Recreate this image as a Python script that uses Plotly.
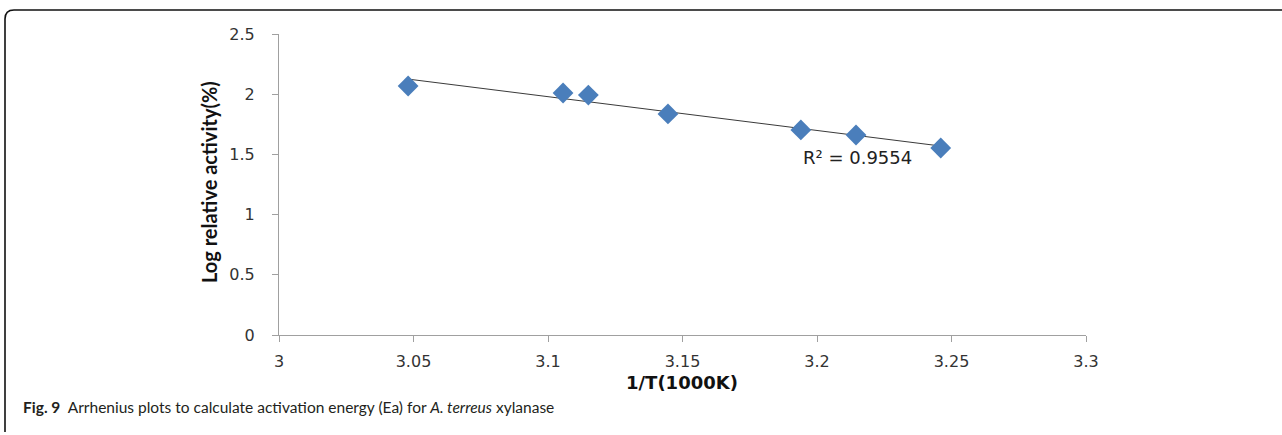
import numpy as np
import plotly.graph_objects as go

# ---- data ----
inv_T = [3.048, 3.1056, 3.115, 3.1446, 3.194, 3.2145, 3.246]
log_activity = [2.068, 2.010, 1.993, 1.836, 1.703, 1.661, 1.553]
x_ticks = [3, 3.05, 3.1, 3.15, 3.2, 3.25, 3.3]
x_tick_labels = ["3", "3.05", "3.1", "3.15", "3.2", "3.25", "3.3"]
y_ticks = [0, 0.5, 1, 1.5, 2, 2.5]
y_tick_labels = ["0", "0.5", "1", "1.5", "2", "2.5"]
r2_label = "R² = 0.9554"
x_title = "1/T(1000K)"
y_title = "Log relative activity(%)"
caption = "<b>Fig. 9</b>  Arrhenius plots to calculate activation energy (Ea) for <i>A. terreus</i> xylanase"

# ---- layout geometry (pixels) ----
W, H = 1282, 435
L, R, T, B = 279, 1086, 34, 335


def px(xp):
    return (xp - L) / (R - L)


def py(yp):
    return (B - yp) / (B - T)


# linear trendline from the data
slope, intercept = np.polyfit(inv_T, log_activity, 1)
tx = [min(inv_T), max(inv_T)]
ty = [slope * v + intercept for v in tx]

fig = go.Figure()
fig.add_trace(go.Scatter(x=tx, y=ty, mode="lines",
                         line=dict(color="#3a3a3a", width=1), showlegend=False,
                         hoverinfo="skip"))
fig.add_trace(go.Scatter(x=inv_T, y=log_activity, mode="markers",
                         marker=dict(symbol="diamond", size=16, color="#4a7ebb",
                                     line=dict(width=0)),
                         showlegend=False))

axis_font = dict(family="DejaVu Sans", size=16, color="#333333")
fig.update_xaxes(range=[3, 3.3], tickvals=x_ticks, ticktext=x_tick_labels,
                 showline=True, linecolor="#a0a0a0", linewidth=1,
                 ticks="outside", ticklen=6, tickcolor="#a0a0a0",
                 showgrid=False, zeroline=False, tickfont=axis_font,
                 ticklabelstandoff=6)
fig.update_yaxes(range=[0, 2.5], tickvals=y_ticks, ticktext=y_tick_labels,
                 showline=True, linecolor="#a0a0a0", linewidth=1,
                 ticks="outside", ticklen=6, tickcolor="#a0a0a0",
                 showgrid=False, zeroline=False, tickfont=axis_font,
                 ticklabelstandoff=14)

annotations = [
    dict(text=r2_label, x=px(857), y=py(157), xref="paper", yref="paper",
         showarrow=False, xanchor="center", yanchor="middle",
         font=dict(family="DejaVu Sans", size=18, color="#222222")),
    dict(text="<b>" + x_title + "</b>", x=px(682), y=py(382), xref="paper", yref="paper",
         showarrow=False, xanchor="center", yanchor="middle",
         font=dict(family="DejaVu Sans", size=18, color="#111111")),
    dict(text="<b>" + y_title + "</b>", x=px(209), y=py(182), xref="paper", yref="paper",
         showarrow=False, xanchor="center", yanchor="middle", textangle=-90,
         font=dict(family="Lato", size=20, color="#111111")),
    dict(text=caption, x=px(21), y=py(407), xref="paper", yref="paper",
         showarrow=False, xanchor="left", yanchor="middle",
         font=dict(family="Lato", size=15.5, color="#231f20")),
]

frame_path = (f"M {px(5)} {py(432)} L {px(5)} {py(19)} "
              f"Q {px(5)} {py(10)} {px(14)} {py(10)} L {px(1282)} {py(10)}")
shapes = [dict(type="path", path=frame_path, xref="paper", yref="paper",
               line=dict(color="#111111", width=1.6))]

fig.update_layout(width=W, height=H, autosize=False,
                  margin=dict(l=L, r=W - R, t=T, b=H - B),
                  paper_bgcolor="white", plot_bgcolor="white",
                  annotations=annotations, shapes=shapes)

fig.write_html("out.html", config={"displayModeBar": False})
